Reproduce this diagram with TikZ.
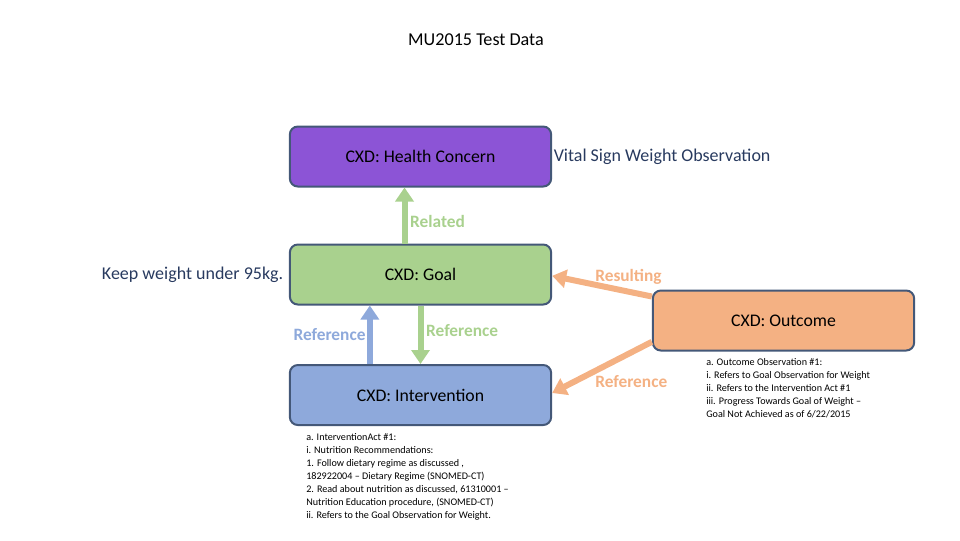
\documentclass[tikz,border=0pt]{standalone}
\usepackage{fontspec}
\setmainfont{Carlito}
\usepackage{tikz}
\usetikzlibrary{arrows.meta, positioning}
\definecolor{edgeblue}{RGB}{68,88,120}
\definecolor{concernfill}{RGB}{140,84,214}
\definecolor{goalfill}{RGB}{169,209,142}
\definecolor{intfill}{RGB}{142,169,219}
\definecolor{outfill}{RGB}{244,177,131}
\definecolor{navytext}{RGB}{40,58,95}

\tikzset{
  cxdbox/.style={draw=edgeblue, line width=1.5pt, rounded corners=6pt,
    minimum width=196pt, minimum height=45pt, font=\fontsize{13.3}{15}\selectfont},
  fatarrow/.style={line width=4.5pt, -{Triangle[width=13.5pt,length=10.5pt]}},
  linklabel/.style={font=\bfseries\fontsize{13}{15}\selectfont, inner sep=0pt},
  notes/.style={align=left, inner sep=0pt, font=\fontsize{7.6}{9.75}\selectfont}
}

\begin{document}
\begin{tikzpicture}[x=0.75pt, y=-0.75pt]
  \useasboundingbox (0,0) rectangle (960,540);

  % Title
  \node (title) at (476,40) {\fontsize{13.6}{15}\selectfont MU2015 Test Data};

  % Boxes
  \node[cxdbox, fill=concernfill] (concern) at (420.5,156.5) {\raisebox{-2pt}{CXD: Health Concern}};
  \node[cxdbox, fill=goalfill] (goal) at (420.5,274.5) {CXD: Goal};
  \node[cxdbox, fill=intfill] (intervention) at (420.5,395) {CXD: Intervention};
  \node[cxdbox, fill=outfill] (outcome) at (783.5,320.5) {\raisebox{-2.5pt}{CXD: Outcome}};

  % Side texts
  \node[right=0pt of concern, navytext, inner sep=1pt,
    font=\fontsize{13.5}{15}\selectfont] (vitals) {Vital Sign Weight Observation};
  \node[left=4pt of goal, navytext, inner sep=0pt,
    font=\fontsize{13.5}{15}\selectfont] (keep) {Keep weight under 95kg.};

  % Arrows between boxes
  \draw[fatarrow, goalfill] ([xshift=-12pt]goal.north) -- ([xshift=-12pt]concern.south)
    node[pos=0.39, right=2pt, linklabel, goalfill] (related) {Related};
  \draw[fatarrow, intfill] ([xshift=-38pt]intervention.north) -- ([xshift=-38pt]goal.south)
    node[pos=0.5, left=1pt, linklabel, intfill] (refup) {Reference};
  \draw[fatarrow, goalfill] (goal.south) -- (intervention.north)
    node[pos=0.42, right=2pt, linklabel, goalfill] (refdown) {Reference};
  \draw[fatarrow, outfill] ([yshift=18pt]outcome.west) -- ([yshift=-1pt]goal.east);
  \draw[fatarrow, outfill] ([yshift=-16pt]outcome.west) -- ([yshift=1.5pt]intervention.east);
  \node[linklabel, outfill, anchor=west] (resulting) at (595,277) {Resulting};
  \node[linklabel, outfill, anchor=west] (refout) at (595,382) {Reference};

  % Notes
  \node[notes, anchor=north west] (intnotes) at (306,433) {%
    a. InterventionAct \#1:\\
    i. Nutrition Recommendations:\\
    1. Follow dietary regime as discussed ,\\
    182922004 -- Dietary Regime (SNOMED-CT)\\
    2. Read about nutrition as discussed, 61310001 --\\
    Nutrition Education procedure, (SNOMED-CT)\\
    ii. Refers to the Goal Observation for Weight.};
  \node[notes, anchor=north west] (outnotes) at (706,358) {%
    a. Outcome Observation \#1:\\
    i. Refers to Goal Observation for Weight\\
    ii. Refers to the Intervention Act \#1\\
    iii. Progress Towards Goal of Weight --\\
    Goal Not Achieved as of 6/22/2015};
\end{tikzpicture}
\end{document}
